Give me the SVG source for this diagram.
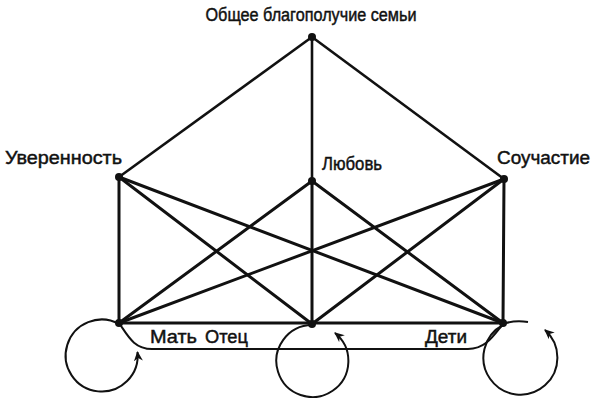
<svg xmlns="http://www.w3.org/2000/svg" width="592" height="398" viewBox="0 0 592 398">
<defs>
<style>
text{font-family:"Liberation Sans",Arial,sans-serif;font-size:18px;fill:#111;stroke:#111;stroke-width:0.45}
.e{stroke:#111;stroke-width:3;fill:none;stroke-linecap:round}
.t{stroke:#111;stroke-width:2.6;fill:none}
.l{stroke:#111;stroke-width:2;fill:none}
.d{fill:#111}
</style>
<marker id="ah" viewBox="0 0 10 10" refX="9" refY="5" markerWidth="10" markerHeight="10" orient="auto" markerUnits="userSpaceOnUse">
<path d="M0,0.5 L10,5 L0,9.5 L3,5 Z" fill="#111"/>
</marker>
</defs>
<rect width="592" height="398" fill="#fff"/>
<g id="connectors">
<line class="t" x1="312" y1="37" x2="119" y2="177"/>
<line class="t" x1="312" y1="37" x2="312" y2="181"/>
<line class="t" x1="312" y1="37" x2="504" y2="179"/>
<line class="e" x1="119" y1="177" x2="119" y2="323"/>
<line class="e" x1="119" y1="177" x2="312" y2="324"/>
<line class="e" x1="119" y1="177" x2="503" y2="323"/>
<line class="e" x1="312" y1="181" x2="119" y2="323"/>
<line class="e" x1="312" y1="181" x2="312" y2="324"/>
<line class="e" x1="312" y1="181" x2="503" y2="323"/>
<line class="e" x1="504" y1="179" x2="119" y2="323"/>
<line class="e" x1="504" y1="179" x2="312" y2="324"/>
<line class="e" x1="504" y1="179" x2="503" y2="323"/>
<line class="e" x1="119" y1="323" x2="503" y2="323"/>
<path class="l" d="M119,323 C128,336 134,349 152,349 L468,349 C486,349 494,335 503,324"/>
<path class="l" marker-end="url(#ah)" d="M119,324 A36,36 0 1 0 137.5,352"/>
<path class="l" marker-end="url(#ah)" d="M312,325 A36,36 0 1 0 335,333"/>
<path class="l" marker-end="url(#ah)" d="M503,325 A37,37 0 1 0 545,330"/>
<path class="l" d="M503,324 Q514,320 528,322"/>
</g>
<g id="n-top"><circle class="d" cx="312" cy="37" r="4"/><text x="311" y="21" text-anchor="middle" textLength="211" lengthAdjust="spacingAndGlyphs">Общее благополучие семьи</text></g>
<g id="n-uver"><circle class="d" cx="119" cy="177" r="4"/><text x="5" y="164" textLength="117" lengthAdjust="spacingAndGlyphs">Уверенность</text></g>
<g id="n-love"><circle class="d" cx="312" cy="181" r="4"/><text x="322" y="170" textLength="60" lengthAdjust="spacingAndGlyphs">Любовь</text></g>
<g id="n-souch"><circle class="d" cx="504" cy="179" r="4"/><text x="497" y="164" textLength="93" lengthAdjust="spacingAndGlyphs">Соучастие</text></g>
<g id="n-mat"><circle class="d" cx="119" cy="323" r="4"/><text x="150" y="343" textLength="47" lengthAdjust="spacingAndGlyphs">Мать</text></g>
<g id="n-otec"><circle class="d" cx="312" cy="324" r="4"/><text x="205" y="343" textLength="43" lengthAdjust="spacingAndGlyphs">Отец</text></g>
<g id="n-deti"><circle class="d" cx="503" cy="323" r="4"/><text x="425" y="343" textLength="42" lengthAdjust="spacingAndGlyphs">Дети</text></g>
</svg>
